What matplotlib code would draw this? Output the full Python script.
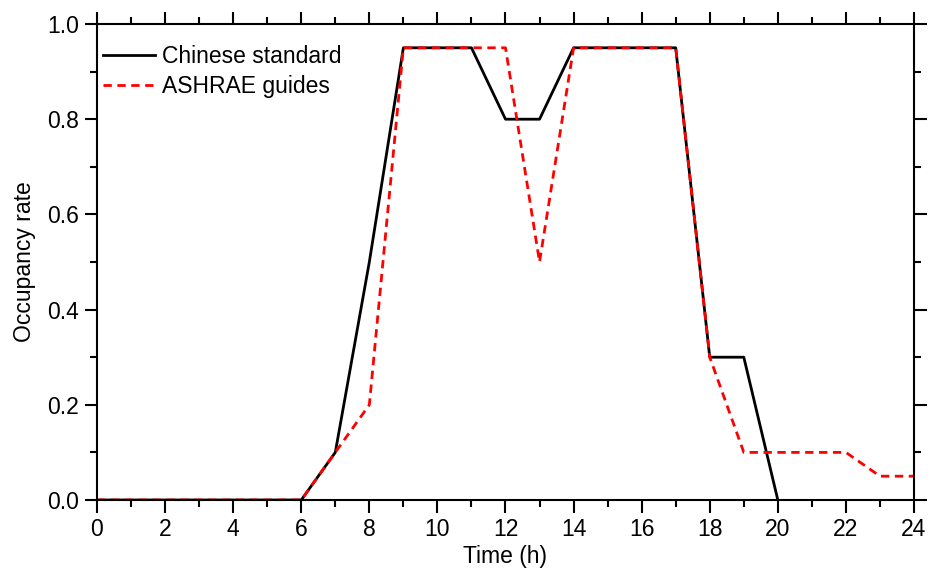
import matplotlib
matplotlib.use('Agg')
import matplotlib.pyplot as plt
from matplotlib.ticker import MultipleLocator, FormatStrFormatter

plt.rcParams['font.family'] = ['Liberation Sans', 'DejaVu Sans']

# hourly occupancy schedules
hours_cn = [0, 1, 2, 3, 4, 5, 6, 7, 8, 9, 10, 11, 12, 13, 14, 15, 16, 17, 18, 19, 20]
occ_cn = [0, 0, 0, 0, 0, 0, 0, 0.1, 0.5, 0.95, 0.95, 0.95, 0.8, 0.8, 0.95, 0.95, 0.95, 0.95, 0.3, 0.3, 0.0]

hours_ashrae = list(range(25))
occ_ashrae = [0, 0, 0, 0, 0, 0, 0, 0.1, 0.2, 0.95, 0.95, 0.95, 0.95, 0.5, 0.95, 0.95, 0.95, 0.95,
              0.3, 0.1, 0.1, 0.1, 0.1, 0.05, 0.05]

fs = 16.5

fig = plt.figure(figsize=(9.29, 5.70), dpi=100)
ax = fig.add_axes([97 / 929, 1 - 500 / 570, 817 / 929, 476 / 570])

ax.plot(hours_cn, occ_cn, '-', color='black', lw=2.0, label='Chinese standard')
ax.plot(hours_ashrae, occ_ashrae, '--', color='red', lw=2.0, dashes=(3, 2), label='ASHRAE guides')

ax.set_xlim(0, 24)
ax.set_ylim(0, 1.0)
ax.xaxis.set_major_locator(MultipleLocator(2))
ax.xaxis.set_minor_locator(MultipleLocator(1))
ax.yaxis.set_major_locator(MultipleLocator(0.2))
ax.yaxis.set_minor_locator(MultipleLocator(0.1))
ax.yaxis.set_major_formatter(FormatStrFormatter('%.1f'))

ax.tick_params(which='both', direction='out', top=True, right=True, labelsize=fs, width=1.5)
ax.tick_params(which='major', length=9, pad=4)
ax.tick_params(which='minor', length=5)
for s in ax.spines.values():
    s.set_linewidth(1.5)

ax.set_xlabel('Time (h)', fontsize=fs, labelpad=3)
ax.set_ylabel('Occupancy rate', fontsize=fs, labelpad=8)

ax.legend(loc='upper left', bbox_to_anchor=(0.007, 0.956), frameon=False, fontsize=fs,
          handlelength=2.3, handletextpad=0.3, borderpad=0, borderaxespad=0, labelspacing=0.3)

fig.savefig('out.png', dpi=100)
